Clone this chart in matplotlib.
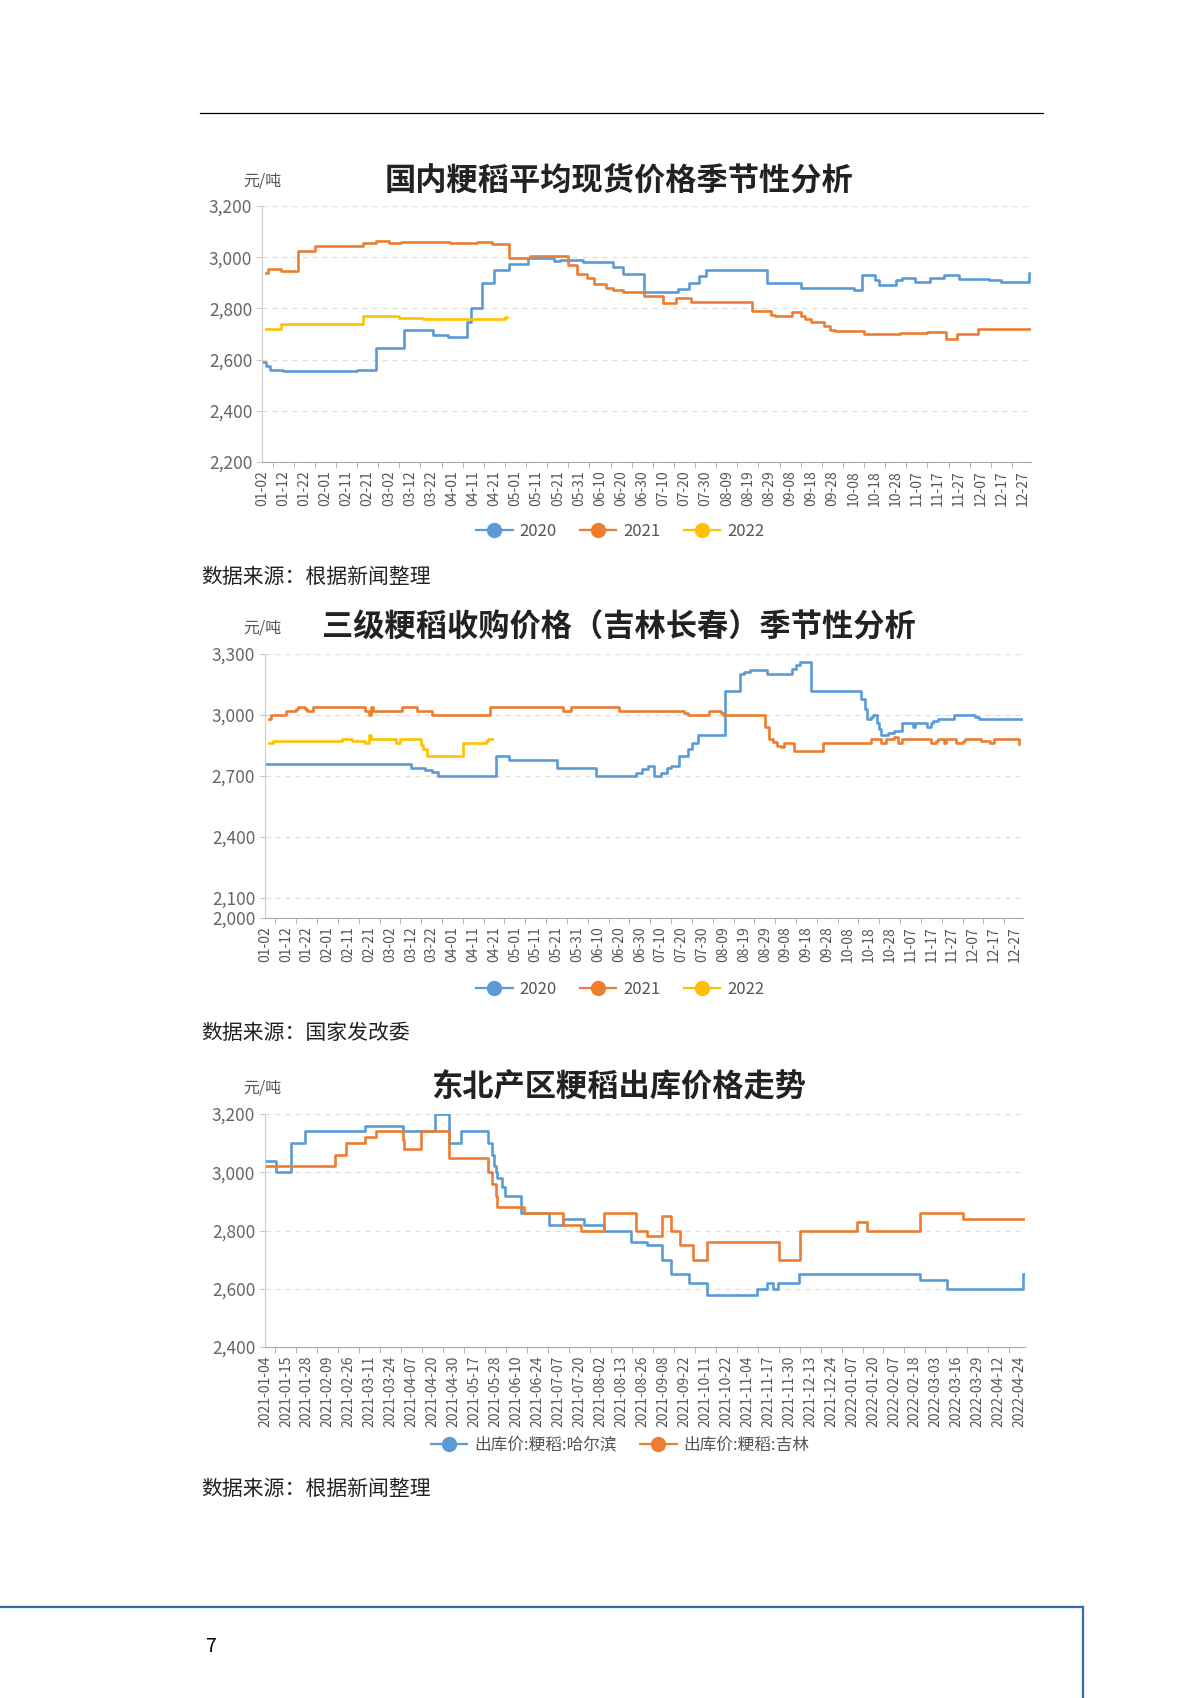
import numpy as np
import pandas as pd
import matplotlib
matplotlib.use('Agg')
import matplotlib.pyplot as plt
from matplotlib.lines import Line2D
from matplotlib.ticker import FuncFormatter, FixedLocator

plt.rcParams['font.family'] = ['Noto Sans CJK SC', 'DejaVu Sans']

W, H = 1200, 1698
BLUE, ORANGE, YELLOW = '#5b9bd5', '#ed7d31', '#ffc000'

# seasonal charts use a month-day category axis
days = pd.date_range('2020-01-02', '2020-12-31').strftime('%m-%d').tolist()

# chart 1: 国内粳稻平均现货价格
spot_2020 = [('01-02', 2590), ('01-04', 2575), ('01-06', 2560), ('01-12', 2555), ('02-16', 2558),
             ('02-25', 2645), ('03-09', 2715), ('03-23', 2695), ('03-30', 2690), ('04-08', 2745),
             ('04-10', 2800), ('04-15', 2900), ('04-21', 2950), ('04-28', 2975), ('05-07', 2995),
             ('05-19', 2985), ('05-22', 2990), ('06-02', 2980), ('06-16', 2960), ('06-21', 2935),
             ('07-01', 2865), ('07-17', 2877), ('07-22', 2900), ('07-27', 2925), ('07-30', 2950),
             ('08-28', 2900), ('09-13', 2880), ('10-03', 2878), ('10-08', 2872), ('10-12', 2930),
             ('10-18', 2910), ('10-20', 2890), ('10-28', 2910), ('10-31', 2920), ('11-06', 2905),
             ('11-13', 2918), ('11-20', 2930), ('11-27', 2915), ('12-11', 2910), ('12-17', 2905),
             ('12-30', 2940), ('12-31', 2940)]
spot_2021 = [('01-04', 2940), ('01-05', 2955), ('01-11', 2945), ('01-19', 3025), ('01-27', 3045),
             ('02-19', 3055), ('02-25', 3065), ('03-02', 3055), ('03-08', 3058), ('03-17', 3060),
             ('03-31', 3055), ('04-13', 3060), ('04-20', 3050), ('04-28', 2995), ('05-08', 3005),
             ('05-26', 2970), ('05-30', 2935), ('06-04', 2920), ('06-07', 2895), ('06-13', 2880),
             ('06-16', 2870), ('06-21', 2865), ('07-01', 2850), ('07-10', 2820), ('07-16', 2840),
             ('07-23', 2825), ('08-21', 2790), ('08-30', 2775), ('09-01', 2770), ('09-09', 2785),
             ('09-13', 2770), ('09-15', 2760), ('09-18', 2745), ('09-24', 2730), ('09-27', 2715),
             ('09-29', 2710), ('10-13', 2700), ('10-30', 2702), ('11-07', 2705), ('11-12', 2708),
             ('11-21', 2682), ('11-26', 2700), ('12-06', 2720), ('12-31', 2720)]
spot_2022 = [('01-04', 2720), ('01-11', 2740), ('02-19', 2770), ('03-07', 2762), ('03-18', 2757),
             ('04-24', 2760), ('04-26', 2766), ('04-27', 2766)]

# chart 2: 三级粳稻收购价格（吉林长春）
jl_2020 = [('01-02', 2760), ('03-12', 2740), ('03-19', 2730), ('03-22', 2720), ('03-25', 2700),
           ('04-22', 2800), ('04-28', 2780), ('05-21', 2740), ('06-09', 2700), ('06-28', 2715),
           ('07-01', 2735), ('07-04', 2750), ('07-07', 2700), ('07-10', 2715), ('07-13', 2740),
           ('07-15', 2750), ('07-19', 2800), ('07-23', 2830), ('07-25', 2860), ('07-28', 2900),
           ('08-10', 3120), ('08-17', 3200), ('08-19', 3210), ('08-22', 3220), ('08-30', 3200),
           ('09-11', 3225), ('09-13', 3245), ('09-15', 3260), ('09-20', 3120), ('10-14', 3080),
           ('10-16', 3030), ('10-17', 2980), ('10-19', 2990), ('10-20', 3000), ('10-22', 2960),
           ('10-23', 2930), ('10-24', 2900), ('10-27', 2910), ('10-30', 2920), ('11-03', 2960),
           ('11-08', 2940), ('11-09', 2960), ('11-15', 2940), ('11-17', 2960), ('11-18', 2970),
           ('11-20', 2980), ('11-28', 3000), ('12-08', 2990), ('12-10', 2980), ('12-31', 2980)]
jl_2021 = [('01-04', 2980), ('01-05', 3000), ('01-12', 3020), ('01-17', 3030), ('01-18', 3040),
           ('01-21', 3030), ('01-22', 3020), ('01-25', 3040), ('02-19', 3020), ('02-21', 3000),
           ('02-22', 3040), ('02-23', 3020), ('03-08', 3040), ('03-15', 3020), ('03-22', 3000),
           ('04-19', 3040), ('05-24', 3020), ('05-28', 3040), ('06-20', 3020), ('07-21', 3010),
           ('07-23', 3000), ('08-02', 3020), ('08-08', 3010), ('08-09', 3000), ('08-29', 2940),
           ('08-31', 2880), ('09-02', 2865), ('09-04', 2845), ('09-06', 2840), ('09-07', 2860),
           ('09-12', 2820), ('09-26', 2860), ('10-19', 2880), ('10-24', 2860), ('10-26', 2880),
           ('10-30', 2890), ('11-01', 2860), ('11-03', 2880), ('11-17', 2860), ('11-19', 2870),
           ('11-20', 2880), ('11-23', 2860), ('11-24', 2880), ('11-29', 2860), ('12-02', 2870),
           ('12-03', 2880), ('12-11', 2870), ('12-15', 2860), ('12-17', 2880), ('12-27', 2880),
           ('12-29', 2855)]
jl_2022 = [('01-04', 2860), ('01-06', 2870), ('02-08', 2880), ('02-13', 2870), ('02-19', 2860),
           ('02-21', 2900), ('02-22', 2880), ('03-05', 2860), ('03-07', 2880), ('03-17', 2850),
           ('03-18', 2830), ('03-20', 2800), ('04-06', 2860), ('04-17', 2870), ('04-18', 2880),
           ('04-20', 2880)]

# chart 3: 东北产区粳稻出库价格 (working-day axis, labelled every 9th day)
tick_dates3 = ['2021-01-04', '2021-01-15', '2021-01-28', '2021-02-09', '2021-02-26', '2021-03-11',
               '2021-03-24', '2021-04-07', '2021-04-20', '2021-04-30', '2021-05-17', '2021-05-28',
               '2021-06-10', '2021-06-24', '2021-07-07', '2021-07-20', '2021-08-02', '2021-08-13',
               '2021-08-26', '2021-09-08', '2021-09-22', '2021-10-11', '2021-10-22', '2021-11-04',
               '2021-11-17', '2021-11-30', '2021-12-13', '2021-12-24', '2022-01-07', '2022-01-20',
               '2022-02-07', '2022-02-18', '2022-03-03', '2022-03-16', '2022-03-29', '2022-04-12',
               '2022-04-24']
hrb = [('2021-01-04', 3040), ('2021-01-10', 3000), ('2021-01-18', 3100), ('2021-01-27', 3140),
       ('2021-03-08', 3160), ('2021-04-01', 3140), ('2021-04-21', 3200), ('2021-04-28', 3100),
       ('2021-05-06', 3140), ('2021-05-24', 3100), ('2021-05-26', 3060), ('2021-05-27', 3020),
       ('2021-05-28', 3000), ('2021-05-29', 2980), ('2021-06-01', 2950), ('2021-06-03', 2920),
       ('2021-06-13', 2860), ('2021-07-01', 2820), ('2021-07-10', 2840), ('2021-07-23', 2820),
       ('2021-08-04', 2800), ('2021-08-19', 2760), ('2021-08-29', 2750), ('2021-09-07', 2700),
       ('2021-09-13', 2650), ('2021-09-26', 2620), ('2021-10-12', 2580), ('2021-11-10', 2600),
       ('2021-11-16', 2620), ('2021-11-20', 2600), ('2021-11-23', 2620), ('2021-12-06', 2650),
       ('2022-02-21', 2630), ('2022-03-10', 2600), ('2022-04-26', 2650), ('2022-04-27', 2650)]
jilin = [('2021-01-04', 3020), ('2021-02-15', 3060), ('2021-02-24', 3100), ('2021-03-08', 3120),
         ('2021-03-15', 3140), ('2021-04-01', 3110), ('2021-04-02', 3080), ('2021-04-13', 3140),
         ('2021-04-28', 3050), ('2021-05-24', 3000), ('2021-05-26', 2960), ('2021-05-28', 2920),
         ('2021-05-29', 2880), ('2021-06-15', 2860), ('2021-07-10', 2820), ('2021-07-21', 2800),
         ('2021-08-04', 2860), ('2021-08-22', 2800), ('2021-08-29', 2780), ('2021-09-07', 2850),
         ('2021-09-13', 2800), ('2021-09-19', 2750), ('2021-09-30', 2700), ('2021-10-12', 2760),
         ('2021-11-24', 2700), ('2021-12-07', 2800), ('2022-01-10', 2830), ('2022-01-16', 2800),
         ('2022-02-21', 2860), ('2022-03-20', 2840), ('2022-04-27', 2840)]

fig = plt.figure(figsize=(W / 100, H / 100), dpi=100)


def px_axes(left, top, right, bottom):
    return fig.add_axes([left / W, 1 - bottom / H, (right - left) / W, (bottom - top) / H])


def style(ax, ylim, yticks):
    ax.set_ylim(*ylim)
    ax.set_yticks(yticks)
    ax.yaxis.set_major_formatter(FuncFormatter(lambda v, p: f'{v:,.0f}'))
    ax.grid(axis='y', ls=(0, (4, 4)), color='#dddddd', lw=0.9)
    ax.set_axisbelow(True)
    for s in ['top', 'right']:
        ax.spines[s].set_visible(False)
    ax.spines['left'].set_color('#cccccc')
    ax.spines['bottom'].set_color('#aaaaaa')
    ax.tick_params(axis='y', length=4, color='#cccccc', labelsize=12.5, labelcolor='#666666', pad=3)
    ax.tick_params(axis='x', which='major', length=0, labelsize=10, labelcolor='#555555',
                   labelrotation=90, pad=6)
    ax.tick_params(axis='x', which='minor', length=4, color='#aaaaaa')


def header(cy, title, src, src_y, handles, labels, leg_y):
    fig.text(619 / W, 1 - cy / H, title, ha='center', va='center', fontsize=22.5,
             fontweight='bold', color='#222222')
    fig.text(262 / W, 1 - cy / H, '元/吨', ha='center', va='center', fontsize=11.5, color='#555555')
    fig.legend(handles, labels, loc='center', bbox_to_anchor=(620 / W, 1 - leg_y / H), ncol=len(labels),
               frameon=False, fontsize=12, labelcolor='#555555', handlelength=2.2,
               columnspacing=1.4, handletextpad=0.4)
    fig.text(201 / W, 1 - src_y / H, src, ha='left', va='center', fontsize=15, color='#222222')


def seasonal(ax, series):
    for data, c in series:
        x = [days.index(d) for d, _ in data]
        y = [v for _, v in data]
        ax.step(x, y, where='post', color=c, lw=1.9)
    ax.set_xlim(0, len(days) - 1)
    ax.xaxis.set_major_locator(FixedLocator(range(0, len(days), 10)))
    ax.set_xticklabels(days[::10])
    ax.xaxis.set_minor_locator(FixedLocator(np.arange(5, len(days), 10)))


def leg_handle(c):
    return Line2D([], [], color=c, lw=1.6, marker='o', markersize=10)


# chart 1
ax1 = px_axes(262, 206, 1031, 462)
seasonal(ax1, [(spot_2020, BLUE), (spot_2021, ORANGE), (spot_2022, YELLOW)])
style(ax1, (2200, 3200), [2200, 2400, 2600, 2800, 3000, 3200])
header(181, '国内粳稻平均现货价格季节性分析', '数据来源：根据新闻整理', 577,
       [leg_handle(BLUE), leg_handle(ORANGE), leg_handle(YELLOW)], ['2020', '2021', '2022'], 531)

# chart 2
ax2 = px_axes(265, 654, 1023, 918)
seasonal(ax2, [(jl_2020, BLUE), (jl_2021, ORANGE), (jl_2022, YELLOW)])
style(ax2, (2000, 3300), [2000, 2100, 2400, 2700, 3000, 3300])
header(628, '三级粳稻收购价格（吉林长春）季节性分析', '数据来源：国家发改委', 1033,
       [leg_handle(BLUE), leg_handle(ORANGE), leg_handle(YELLOW)], ['2020', '2021', '2022'], 989)

# chart 3: positions from the labelled working days
lab_t = pd.to_datetime(tick_dates3).values.astype('datetime64[D]').astype(float)
lab_p = np.arange(len(tick_dates3)) * 9.0


def pos3(d):
    t = np.datetime64(d, 'D').astype(float)
    if t > lab_t[-1]:
        slope = (lab_p[-1] - lab_p[-2]) / (lab_t[-1] - lab_t[-2])
        return lab_p[-1] + (t - lab_t[-1]) * slope
    return np.interp(t, lab_t, lab_p)


ax3 = px_axes(265, 1114, 1025, 1347)
for data, c in [(hrb, BLUE), (jilin, ORANGE)]:
    ax3.step([pos3(d) for d, _ in data], [v for _, v in data], where='post', color=c, lw=1.9)
ax3.set_xlim(0, pos3(hrb[-1][0]))
ax3.xaxis.set_major_locator(FixedLocator(lab_p))
ax3.set_xticklabels(tick_dates3)
ax3.xaxis.set_minor_locator(FixedLocator(lab_p + 4.5))
style(ax3, (2400, 3200), [2400, 2600, 2800, 3000, 3200])
header(1088, '东北产区粳稻出库价格走势', '数据来源：根据新闻整理', 1489,
       [leg_handle(BLUE), leg_handle(ORANGE)], ['出库价:粳稻:哈尔滨', '出库价:粳稻:吉林'], 1445)

# page furniture
fig.add_artist(Line2D([200 / W, 1043 / W], [1 - 113 / H] * 2, color='black', lw=0.9))
fig.add_artist(Line2D([0, 1083 / W], [1 - 1607 / H] * 2, color='#2f6db5', lw=1.6))
fig.add_artist(Line2D([1083 / W] * 2, [1 - 1607 / H, 0], color='#2f6db5', lw=1.6))
fig.text(206 / W, 1 - 1647 / H, '7', fontsize=14, va='center', ha='left', color='black')

fig.savefig('out.png', dpi=100)
